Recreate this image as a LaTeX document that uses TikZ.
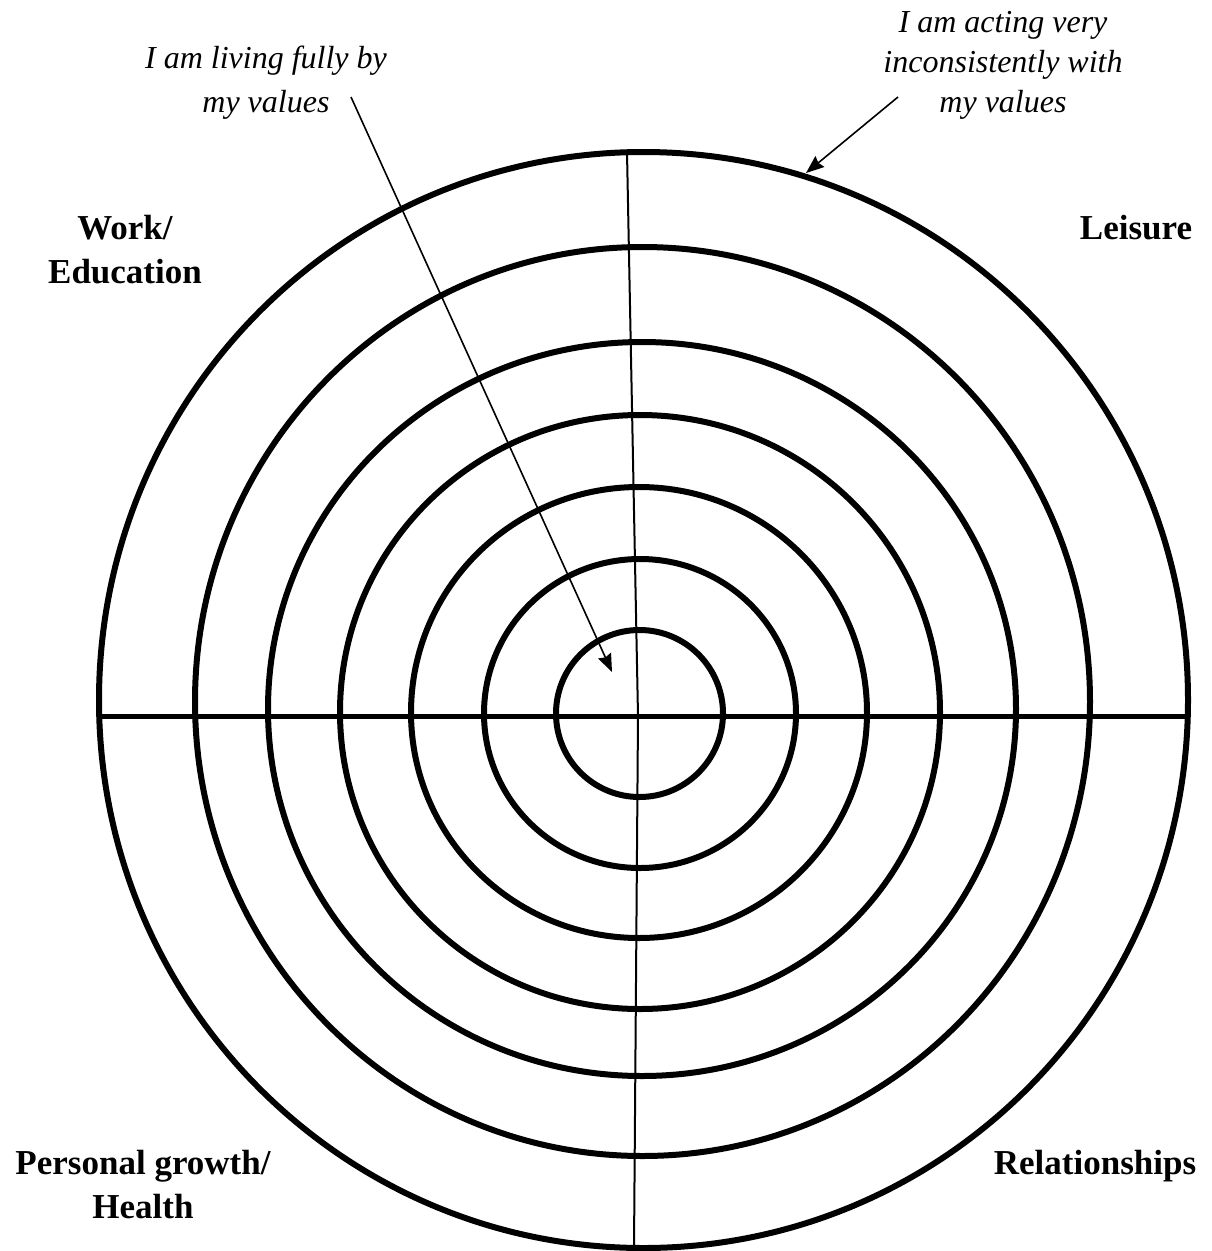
\documentclass[tikz,border=0pt]{standalone}
\usepackage{fontspec}
\setmainfont{Liberation Serif}
\usetikzlibrary{arrows.meta}
\begin{document}
\begin{tikzpicture}[x=1pt,y=-1pt,
  ring/.style={line width=6pt},
  axis/.style={line width=5pt},
  divider/.style={line width=2pt},
  pointer/.style={line width=1.6pt,-{Stealth[length=18pt,width=14pt,inset=2pt]}},
  area/.style={font=\fontsize{35}{44}\selectfont\bfseries, inner sep=0pt, align=center},
  note/.style={font=\fontsize{32}{40}\selectfont\itshape, inner sep=0pt, align=center}]
\useasboundingbox (0,0) rectangle (1211,1251);

% rings
\draw[ring] (643.5,700) ellipse [x radius=544.5pt, y radius=548pt];
\draw[ring] (642.5,701.5) ellipse [x radius=447.5pt, y radius=454.5pt];
\draw[ring] (642,709) ellipse [x radius=374pt, y radius=367pt];
\draw[ring] (640,712) ellipse [x radius=300pt, y radius=297pt];
\draw[ring] (639,712.5) ellipse [x radius=228pt, y radius=225.5pt];
\draw[ring] (640,713.5) ellipse [x radius=156pt, y radius=154.5pt];
\draw[ring] (639.5,713.5) ellipse [x radius=83.5pt, y radius=83.5pt];

% axes
\coordinate (hl) at (99,716);
\coordinate (hr) at (1188,716);
\coordinate (vt) at (627,152);
\coordinate (vc) at (638,716);
\coordinate (vb) at (634,1248);
\draw[axis] (hl) -- (hr);
\draw[divider] (vt) -- (vc) -- (vb);

% labels
\node[area, anchor=north] (work) at (125,215) {Work/\\Education};
\node[area, anchor=base] (leisure) at (1136,239) {Leisure};
\node[area, anchor=north] (growth) at (143,1150) {Personal growth/\\Health};
\node[area, anchor=base] (rel) at (1095,1174) {Relationships};

% notes
\node[note, anchor=north, font=\fontsize{32}{44}\selectfont\itshape] (full) at (266,46) {I am living fully by\\my values};
\node[note, anchor=north] (incons) at (1003,11) {I am acting very\\inconsistently with\\my values};

\coordinate (fullstart) at (351,97);
\coordinate (fulltip) at (612,672);
\coordinate (incstart) at (898,97);
\coordinate (inctip) at (806,173);
\draw[pointer] (fullstart) -- (fulltip);
\draw[pointer] (incstart) -- (inctip);
\end{tikzpicture}
\end{document}
